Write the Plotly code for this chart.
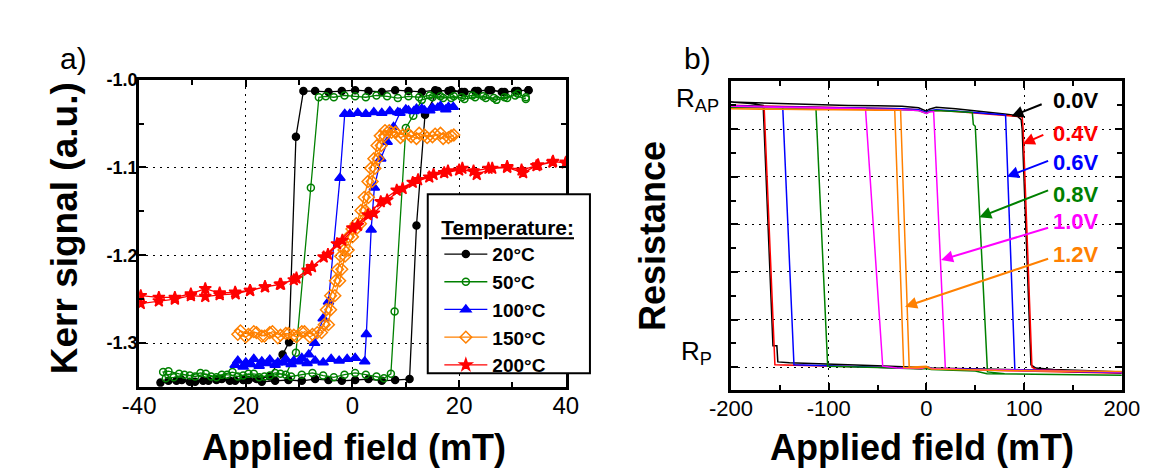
import plotly.graph_objects as go

# ---------------- Panel a data (Kerr loops) ----------------
temps = ["20°C", "50°C", "100°C", "150°C", "200°C"]

k20_x = [33, 30.5, 28, 25.5, 23, 20.5, 18, 15.5, 13, 10.5, 8, 5.5, 3, 0.5, -2, -4.5, -7, -9.2, -10.6, -11.9, -13.1,
         -15.5, -18, -20.5, -23, -25.5, -28, -30.5, -33, -36,
         -34.5, -32, -29.5, -27, -24.5, -22, -19.5, -17, -14.5, -12, -9.5, -7, -4.5, -2, 0.5, 3, 5.5, 8, 10.7,
         12.0, 13.6, 16, 18.5, 21, 23.5, 26, 28.5, 31, 33]
k20_y = [-1.012, -1.013, -1.014, -1.012, -1.013, -1.014, -1.013, -1.012, -1.014, -1.013, -1.012, -1.014, -1.013,
         -1.012, -1.013, -1.014, -1.013, -1.013, -1.065, -1.299, -1.313,
         -1.338, -1.341, -1.342, -1.343, -1.342, -1.343, -1.344, -1.343, -1.345,
         -1.343, -1.342, -1.344, -1.343, -1.341, -1.343, -1.342, -1.344, -1.343, -1.342, -1.343, -1.341, -1.342,
         -1.343, -1.342, -1.341, -1.343, -1.342, -1.341,
         -1.166, -1.040, -1.013, -1.012, -1.014, -1.013, -1.012, -1.014, -1.013, -1.012]

k50_x = [32.5, 30.5, 28.5, 26.5, 24.5, 22.5, 20.5, 18.5, 16.5, 14.5, 12.5, 10.5, 8.5, 6.5, 4.5, 2.5, 0.5, -1.5,
         -3.5, -5.0, -6.3, -7.8, -10.6, -12.5, -14.5, -16.5, -18.5, -20.5, -22.5, -24.5, -26.5, -28.5, -30.5,
         -32.5, -34.5, -35.5,
         -35, -33.5, -31.5, -29.5, -27.5, -25.5, -23.5, -21.5, -19.5, -17.5, -15.5, -13.5, -11.5, -9.5, -7.5,
         -5.5, -3.5, -1.5, 0.5, 2.5, 4.5, 5.9, 7.2, 7.9, 10.0, 11.4, 13.0, 15, 17, 19, 21, 23, 25, 27, 29, 31, 32.5]
k50_y = [-1.022, -1.018, -1.020, -1.021, -1.019, -1.018, -1.020, -1.021, -1.019, -1.018, -1.020, -1.019, -1.021,
         -1.019, -1.018, -1.020, -1.019, -1.018, -1.020, -1.019, -1.020, -1.123, -1.311, -1.336, -1.334, -1.338,
         -1.335, -1.337, -1.333, -1.336, -1.338, -1.334, -1.337, -1.335, -1.332, -1.333,
         -1.340, -1.339, -1.336, -1.338, -1.335, -1.339, -1.336, -1.338, -1.335, -1.339, -1.337, -1.335, -1.338,
         -1.336, -1.334, -1.337, -1.339, -1.336, -1.334, -1.336, -1.338, -1.340, -1.335, -1.264, -1.055, -1.041,
         -1.023, -1.020, -1.021, -1.019, -1.022, -1.020, -1.021, -1.023, -1.021, -1.016, -1.020]

k100_x = [18.9, 17.5, 16, 14.5, 13, 11.5, 10, 8.5, 7, 5.5, 4, 2.5, 1, -0.5, -1.45, -2.35, -4.5, -5.5, -7.1, -8.2,
          -9.5, -11, -12.5, -14, -15.5, -17, -18.5, -20, -21.5,
          -22, -20.5, -19, -17.5, -16, -14.5, -13, -11.5, -10, -8.5, -7, -5.5, -4, -2.5, -1, 0.5, 2.3, 2.6, 3.5,
          4.1, 5.3, 6.5, 7.7, 8.9, 10.5, 12, 13.5, 15, 16.5, 18]
k100_y = [-1.031, -1.034, -1.032, -1.035, -1.033, -1.036, -1.034, -1.037, -1.036, -1.038, -1.037, -1.039, -1.038,
          -1.039, -1.039, -1.112, -1.253, -1.272, -1.300, -1.313, -1.317, -1.320, -1.318, -1.322, -1.319, -1.321,
          -1.318, -1.322, -1.320,
          -1.325, -1.327, -1.324, -1.326, -1.323, -1.325, -1.322, -1.324, -1.321, -1.323, -1.320, -1.322, -1.318,
          -1.320, -1.318, -1.317, -1.321, -1.290, -1.171, -1.123, -1.090, -1.071, -1.054, -1.038, -1.035, -1.033,
          -1.035, -1.032, -1.030, -1.031]

k150_x = [18.5, 17, 15.5, 14, 12.5, 11, 9.5, 8, 7.3, 6.1, 5.2, 4.6, 4.0, 3.4, 2.9, 2.2, 1.6, 0.7, -0.1, -0.8, -1.6,
          -2.2, -2.8, -3.2, -4.1, -4.9, -5.3, -6.6, -8, -9.5, -11, -12.5, -14, -15.5, -17, -18.5, -20, -21.5,
          -21, -19.5, -18, -16.5, -15, -13.5, -12, -10.5, -9, -7.5, -5.8, -4.5, -4.1, -3.3, -2.4, -2.0, -1.4, -0.8,
          0.0, 0.7, 1.5, 2.4, 3.0, 3.7, 4.2, 4.8, 5.4, 6.0, 6.9, 8.1, 9, 10.5, 12, 13.5, 15, 16.5, 18, 19]
k150_y = [-1.064, -1.067, -1.062, -1.066, -1.061, -1.065, -1.063, -1.060, -1.060, -1.058, -1.064, -1.075, -1.090,
          -1.101, -1.116, -1.134, -1.149, -1.164, -1.170, -1.179, -1.194, -1.201, -1.216, -1.229, -1.246, -1.262,
          -1.279, -1.288, -1.293, -1.287, -1.291, -1.289, -1.294, -1.288, -1.292, -1.287, -1.293, -1.290,
          -1.286, -1.290, -1.288, -1.292, -1.287, -1.291, -1.289, -1.293, -1.287, -1.290, -1.288, -1.279, -1.262,
          -1.246, -1.229, -1.216, -1.201, -1.194, -1.179, -1.170, -1.164, -1.149, -1.134, -1.116, -1.101, -1.090,
          -1.075, -1.064, -1.058, -1.060, -1.066, -1.062, -1.067, -1.063, -1.065, -1.061, -1.066, -1.063]

k200_x = [40, 37.5, 34.5, 31.7, 29, 25.5, 22.7, 20, 17.2, 14.4, 11.3, 8.3, 5.3, 2.9, 0, -2.9, -5.4, -8.4, -11, -13.6,
          -16.4, -19.2, -22, -24.9, -27.6, -30.3, -33.3, -36.3, -39.7,
          -39.7, -36.3, -33.3, -30.3, -27.6, -24.9, -21.9, -19.2, -16.4, -13.4, -10.5, -7.6, -4.6, -1.9, 1.0, 4.0,
          6.5, 9.4, 12.3, 15.2, 17.9, 20.6, 23.3, 26.2, 29, 32, 34.8, 37.6, 40]
k200_y = [-1.094, -1.094, -1.098, -1.103, -1.099, -1.101, -1.104, -1.103, -1.106, -1.111, -1.117, -1.126, -1.139,
          -1.154, -1.169, -1.187, -1.202, -1.217, -1.228, -1.233, -1.236, -1.240, -1.242, -1.243, -1.238, -1.244,
          -1.248, -1.248, -1.246,
          -1.255, -1.252, -1.250, -1.246, -1.247, -1.245, -1.244, -1.240, -1.236, -1.233, -1.226, -1.213, -1.199,
          -1.183, -1.166, -1.152, -1.137, -1.124, -1.114, -1.108, -1.104, -1.101, -1.108, -1.101, -1.100, -1.106,
          -1.097, -1.093, -1.095]

a_xticks = [-40, -20, 0, 20, 40]
a_xticklabels = ["-40", "20", "0", "20", "40"]
a_yticks = [-1.3, -1.2, -1.1, -1.0]
a_yticklabels = ["-1.3", "-1.2", "-1.1", "-1.0"]

# ---------------- Panel b data (resistance loops) ----------------
volts = ["0.0V", "0.4V", "0.6V", "0.8V", "1.0V", "1.2V"]

r00_x = [-200, -170, -140, -110, -80, -50, -25, -8, 0, 3, 10, 30, 55, 80, 92, 97, 98, 107, 112, 130, 160, 200,
         200, 150, 100, 50, 5, 0, -5, -50, -100, -140, -152, -153, -157, -167, -180, -200]
r00_y = [5.57, 5.55, 5.53, 5.52, 5.50, 5.49, 5.48, 5.45, 5.38, 5.42, 5.46, 5.43, 5.38, 5.32, 5.29, 5.20, 5.00, 0.05,
         -0.02, -0.05, -0.07, -0.10,
         -0.10, -0.08, -0.06, -0.04, -0.02, 0.01, -0.01, 0.03, 0.06, 0.09, 0.11, 0.45, 0.45, 5.50, 5.54, 5.57]

r04_x = [-200, -170, -140, -110, -80, -50, -25, -8, 0, 3, 10, 30, 55, 80, 98, 99, 108, 112, 130, 160, 200,
         200, 150, 100, 50, 5, 0, -5, -50, -100, -140, -155, -166, -180, -200]
r04_y = [5.50, 5.49, 5.47, 5.46, 5.45, 5.44, 5.43, 5.41, 5.34, 5.38, 5.40, 5.37, 5.33, 5.29, 5.26, 5.0, 0.0, -0.05,
         -0.07, -0.09, -0.13,
         -0.13, -0.10, -0.08, -0.06, -0.04, 0.0, -0.03, 0.0, 0.02, 0.03, 0.05, 5.47, 5.49, 5.50]

r06_x = [-200, -170, -140, -110, -80, -50, -25, -8, 0, 3, 10, 30, 55, 75, 81, 90.5, 100, 130, 160, 200,
         200, 150, 100, 50, 5, 0, -5, -50, -100, -135.5, -147, -170, -200]
r06_y = [5.49, 5.48, 5.47, 5.46, 5.45, 5.44, 5.43, 5.41, 5.35, 5.39, 5.41, 5.38, 5.34, 5.31, 5.30, -0.05, -0.06,
         -0.07, -0.09, -0.12,
         -0.12, -0.09, -0.07, -0.05, -0.03, 0.0, -0.03, 0.0, 0.03, 0.05, 5.47, 5.48, 5.49]

r08_x = [-200, -170, -140, -110, -80, -50, -25, -8, 0, 3, 10, 30, 47, 48, 50, 62.5, 80, 110, 150, 200,
         200, 150, 100, 62, 50, 5, 0, -5, -50, -101, -113, -140, -170, -200]
r08_y = [5.46, 5.45, 5.45, 5.44, 5.43, 5.42, 5.41, 5.39, 5.33, 5.37, 5.39, 5.37, 5.35, 5.10, 5.06, -0.10, -0.14,
         -0.15, -0.16, -0.17,
         -0.17, -0.16, -0.15, -0.14, -0.08, -0.05, -0.03, -0.04, -0.01, 0.02, 5.44, 5.45, 5.45, 5.46]

r10_x = [-200, -170, -140, -110, -80, -62.3, -50, -25, -8, 0, 3, 7.4, 19.4, 40, 80, 120, 160, 200,
         200, 160, 120, 80, 40, 19, 5, 0, -5, -30, -44.7, -48.2, -62.3, -80, -110, -140, -170, -200]
r10_y = [5.48, 5.47, 5.46, 5.45, 5.44, 5.43, 5.42, 5.41, 5.39, 5.33, 5.36, 5.37, -0.03, -0.05, -0.07, -0.08, -0.09,
         -0.10,
         -0.10, -0.09, -0.08, -0.07, -0.05, -0.04, -0.03, 0.0, -0.03, -0.02, 0.02, 1.13, 5.43, 5.44, 5.45, 5.46,
         5.47, 5.48]

r12_x = [-200, -170, -140, -110, -80, -50, -35, -26.4, -17.6, 0, 5, 40, 80, 120, 160, 200,
         200, 160, 120, 80, 40, 5, 0, -10, -23.2, -32.4, -50, -80, -110, -140, -170, -200]
r12_y = [5.43, 5.42, 5.42, 5.41, 5.41, 5.40, 5.40, 5.40, 0.00, 0.02, -0.04, -0.06, -0.07, -0.08, -0.08, -0.09,
         -0.09, -0.08, -0.08, -0.07, -0.06, -0.04, 0.0, -0.02, -0.01, 5.40, 5.40, 5.41, 5.41, 5.42, 5.42, 5.43]

b_xticks = [-200, -100, 0, 100, 200]
b_xticklabels = ["-200", "-100", "0", "100", "200"]

# arrow heads / tails and label positions for voltage labels (data units of panel b)
arrow_head_x = [87, 98.6, 82.2, 54.1, 15, -21.8]
arrow_head_y = [5.27, 4.69, 4.00, 3.15, 2.25, 1.27]
arrow_tail_x = [120, 121.7, 126.6, 126.6, 126.6, 126.6]
arrow_tail_y = [5.54, 4.90, 4.35, 3.73, 2.94, 2.29]
label_y = [5.61, 4.90, 4.31, 3.63, 3.05, 2.36]

# ---------------- styles ----------------
FONT = "Arial"
a_colors = ["#000000", "#008000", "#0000FF", "#FF8000", "#FF0000"]
a_symbols = ["circle", "circle-open", "triangle-up", "diamond-open", "star"]
a_sizes = [7, 7, 9, 9, 9]
b_colors = ["#000000", "#FF0000", "#0000FF", "#008000", "#FF00FF", "#FF8000"]

fig = go.Figure()

a_series = [(k20_x, k20_y), (k50_x, k50_y), (k100_x, k100_y), (k150_x, k150_y), (k200_x, k200_y)]
for (xs, ys), name, c, s, sz in zip(a_series, temps, a_colors, a_symbols, a_sizes):
    fig.add_trace(go.Scatter(
        x=xs, y=ys, mode="lines+markers", name=name,
        line=dict(color=c, width=1.3),
        marker=dict(symbol=s, size=sz, color=c, line=dict(color=c, width=1.5)),
        xaxis="x", yaxis="y"))

b_series = [(r00_x, r00_y), (r04_x, r04_y), (r06_x, r06_y), (r08_x, r08_y), (r10_x, r10_y), (r12_x, r12_y)]
for (xs, ys), name, c in zip(b_series, volts, b_colors):
    fig.add_trace(go.Scatter(
        x=xs, y=ys, mode="lines", name=name, showlegend=False,
        line=dict(color=c, width=1.5), xaxis="x2", yaxis="y2"))

grid_common = dict(showgrid=True, gridcolor="black", gridwidth=1.3, griddash="2px,5px",
                   showline=True, linecolor="black", linewidth=3, mirror="allticks",
                   ticks="inside", ticklen=7, tickwidth=1.5, tickcolor="black", zeroline=False)
minor_common = dict(ticks="inside", ticklen=5, tickwidth=1.5, tickcolor="black", showgrid=False)

fig.update_layout(
    width=1157, height=473,
    margin=dict(l=0, r=0, t=0, b=0),
    paper_bgcolor="white", plot_bgcolor="white",
    font=dict(family=FONT, color="black"),
    xaxis=dict(domain=[0.0977, 0.4797], range=[-40, 40], tickvals=a_xticks, ticktext=a_xticklabels,
               tickfont=dict(size=24, family=FONT), ticklabelstandoff=-5,
               minor=dict(dtick=10, tick0=0, **minor_common),
               anchor="y", **grid_common),
    yaxis=dict(domain=[0.2030, 0.8668], range=[-1.35, -1.0], tickvals=a_yticks, ticktext=a_yticklabels,
               tickfont=dict(size=18, family=FONT, weight="bold"), ticklabelstandoff=-5,
               minor=dict(dtick=0.05, tick0=0, **minor_common),
               anchor="x", **grid_common),
    xaxis2=dict(domain=[0.6275, 0.9775], range=[-200, 200], tickvals=b_xticks, ticktext=b_xticklabels,
                tickfont=dict(size=22, family=FONT), ticklabelstandoff=-3,
                minor=dict(dtick=50, tick0=0, **minor_common),
                anchor="y2", **grid_common),
    yaxis2=dict(domain=[0.1966, 0.8647], range=[-0.48, 6.02], dtick=1, tick0=0, showticklabels=False,
                minor=dict(dtick=0.5, tick0=0, **minor_common),
                anchor="x2", **grid_common),
    legend=dict(x=424 / 1157, y=1 - 194 / 473, xanchor="left", yanchor="top",
                bgcolor="rgba(0,0,0,0)", borderwidth=0,
                font=dict(family=FONT, size=19, color="black", weight="bold"),
                title=dict(text="Temperature:", side="top",
                           font=dict(family=FONT, size=21, color="black", weight="bold", lineposition="under")),
                itemwidth=43, tracegroupgap=0),
    shapes=[dict(type="rect", xref="paper", yref="paper", x0=412 / 1157, x1=580 / 1157,
                 y0=1 - 363 / 473, y1=1 - 180 / 473, fillcolor="white",
                 line=dict(color="black", width=2), layer="above")],
)

annotations = [
    dict(text="a)", x=45 / 1157, y=1 - 41 / 473, xref="paper", yref="paper", showarrow=False,
         font=dict(size=30, family=FONT), xanchor="center", yanchor="middle"),
    dict(text="b)", x=691 / 1157, y=1 - 41 / 473, xref="paper", yref="paper", showarrow=False,
         font=dict(size=30, family=FONT), xanchor="center", yanchor="middle"),
    dict(text="<b>Applied field (mT)</b>", x=336 / 1157, y=1 - 439 / 473, xref="paper", yref="paper",
         showarrow=False, font=dict(size=36, family=FONT), xanchor="center", yanchor="middle"),
    dict(text="<b>Applied field (mT)</b>", x=924 / 1157, y=1 - 439 / 473, xref="paper", yref="paper",
         showarrow=False, font=dict(size=36, family=FONT), xanchor="center", yanchor="middle"),
    dict(text="<b>Kerr signal (a.u.)</b>", x=36 / 1157, y=1 - 215 / 473, xref="paper", yref="paper",
         showarrow=False, textangle=-90, font=dict(size=37, family=FONT), xanchor="center", yanchor="middle"),
    dict(text="<b>Resistance</b>", x=645 / 1157, y=1 - 223 / 473, xref="paper", yref="paper",
         showarrow=False, textangle=-90, font=dict(size=36, family=FONT), xanchor="center", yanchor="middle"),
    dict(text="R<sub>AP</sub>", x=716 / 1157, y=5.62, xref="paper", yref="y2", showarrow=False,
         font=dict(size=26, family=FONT), xanchor="right", yanchor="middle"),
    dict(text="R<sub>P</sub>", x=708 / 1157, y=0.3, xref="paper", yref="y2", showarrow=False,
         font=dict(size=26, family=FONT), xanchor="right", yanchor="middle"),
]
for hx, hy, tx, ty, ly, v, c in zip(arrow_head_x, arrow_head_y, arrow_tail_x, arrow_tail_y, label_y, volts,
                                     b_colors):
    annotations.append(dict(x=hx, y=hy, ax=tx, ay=ty, xref="x2", yref="y2", axref="x2", ayref="y2",
                            text=" ", showarrow=True, arrowhead=2, arrowsize=1.2, arrowwidth=2,
                            arrowcolor=c, standoff=0, startstandoff=0, font=dict(size=2)))
    annotations.append(dict(x=127, y=ly, xref="x2", yref="y2", text="<b>" + v + "</b>", showarrow=False,
                            font=dict(size=22, family=FONT, color=c), xanchor="left", yanchor="middle"))
fig.update_layout(annotations=annotations)

fig.write_html("out.html")
